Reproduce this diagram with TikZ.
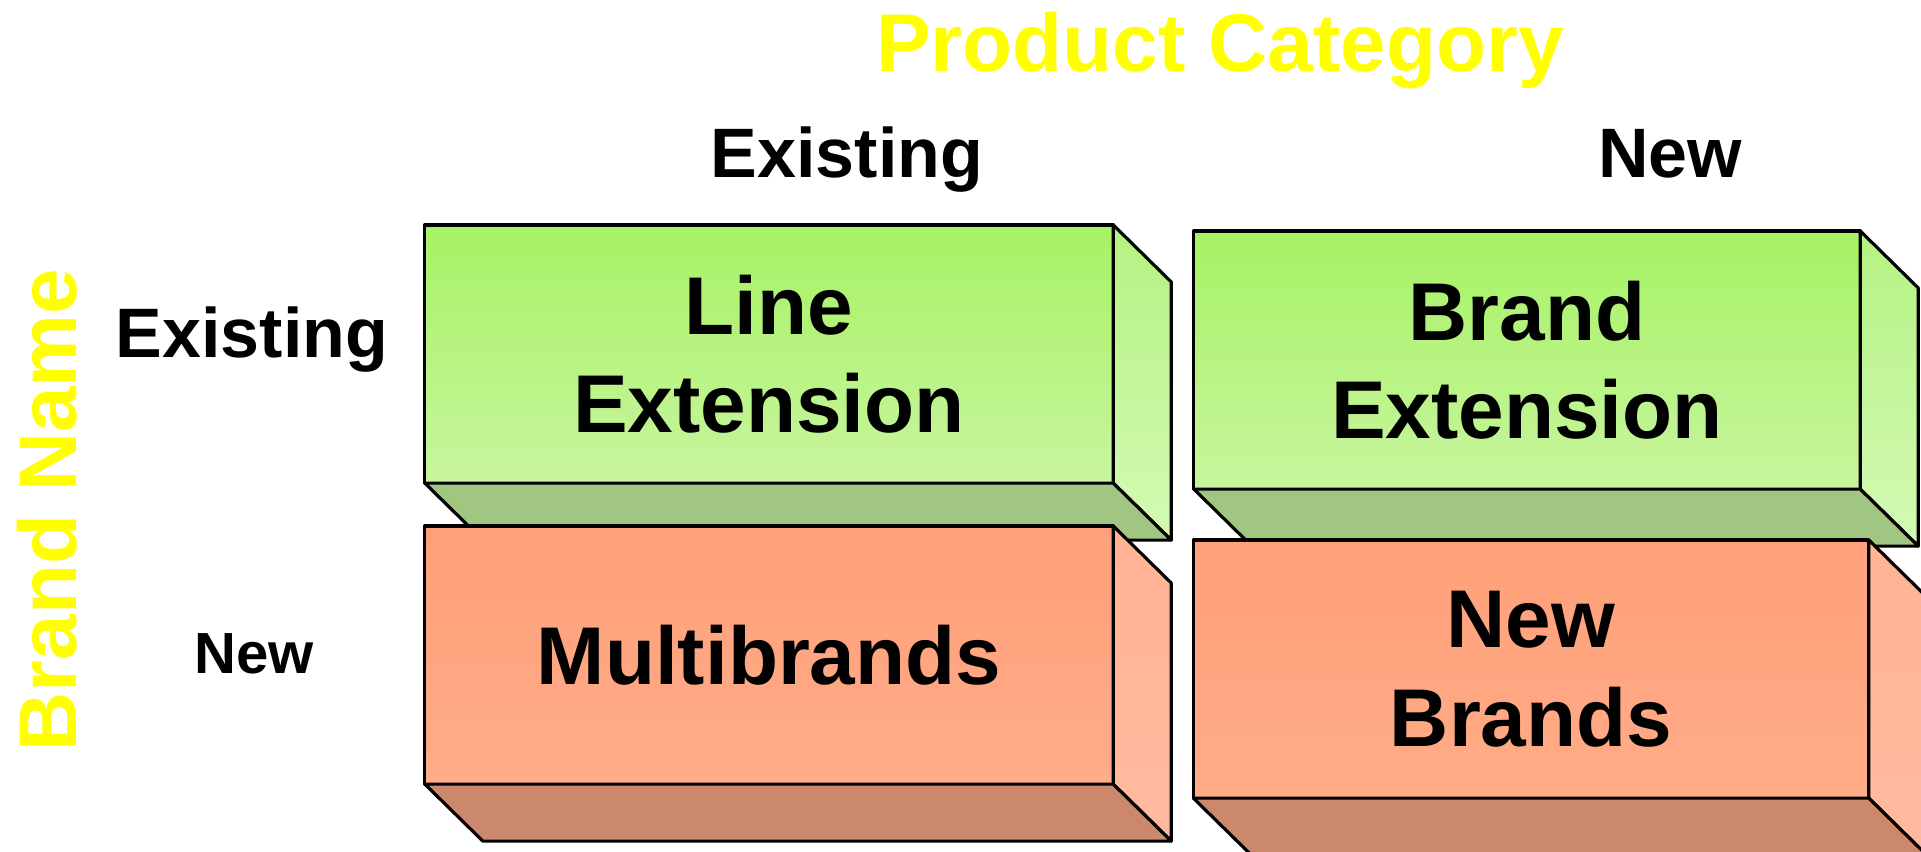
\documentclass[tikz,border=0pt]{standalone}
\usepackage{fontspec}
\setmainfont{Liberation Sans}

\definecolor{titleyellow}{HTML}{FFFF00}
\definecolor{greentop}{HTML}{A6F264}
\definecolor{greenbot}{HTML}{C8F59E}
\definecolor{greensidetop}{HTML}{B4F282}
\definecolor{greensidebot}{HTML}{D4FAB4}
\definecolor{greenfloor}{HTML}{A0C682}
\definecolor{salmontop}{HTML}{FFA07A}
\definecolor{salmonbot}{HTML}{FFAC88}
\definecolor{salmonsidetop}{HTML}{FFB494}
\definecolor{salmonsidebot}{HTML}{FFBA9E}
\definecolor{salmonfloor}{HTML}{CC886C}

\tikzset{
  face/.style={draw=black, line width=0.9pt, line join=round},
  frontbox/.style={face, inner sep=0pt, outer sep=0pt, align=center,
    minimum height=2.58cm, font=\fontsize{23.3}{28}\selectfont\bfseries},
  greenbox/.style={frontbox, top color=greentop, bottom color=greenbot},
  salmonbox/.style={frontbox, top color=salmontop, bottom color=salmonbot},
  greenside/.style={top color=greensidetop, bottom color=greensidebot},
  salmonside/.style={top color=salmonsidetop, bottom color=salmonsidebot},
  header/.style={anchor=base, font=\fontsize{19.9}{24}\selectfont\bfseries},
  axistitle/.style={anchor=base, text=titleyellow, font=\fontsize{23.3}{28}\selectfont\bfseries}
}

% side and floor of a box, from its front node
\newcommand{\depthfaces}[3]{%
  \path[face, #2] (#1.north east) -- ++(58,57) -- ([shift={(58,57)}]#1.south east) -- (#1.south east) -- cycle;
  \path[face, fill=#3] (#1.south west) -- (#1.south east) -- ([shift={(58,57)}]#1.south east) -- ([shift={(58,57)}]#1.south west) -- cycle;
}

\begin{document}
\begin{tikzpicture}[x=0.01cm, y=-0.01cm]
    \clip (0,0) rectangle (1921,851);

    \node (prodcat) [axistitle] at (1220,71) {Product Category};
    \node (brandname) [axistitle, rotate=90] at (77,510) {Brand Name};

    \node (colexist) [header] at (847,177) {Existing};
    \node (colnew) [header] at (1670,177) {New};
    \node (rowexist) [header] at (252,357) {Existing};
    \node (rownew) [header, font=\fontsize{16.5}{20}\selectfont\bfseries] at (254,673) {New};

    \node (lineext) [greenbox, minimum width=6.88cm] at (769,354) {Line\\Extension};
    \depthfaces{lineext}{greenside}{greenfloor}
    \node (multi) [salmonbox, minimum width=6.88cm] at (769,655) {Multibrands};
    \depthfaces{multi}{salmonside}{salmonfloor}

    \node (brandext) [greenbox, minimum width=6.66cm] at (1527,360) {Brand\\Extension};
    \depthfaces{brandext}{greenside}{greenfloor}
    \node (newbrands) [salmonbox, minimum width=6.75cm] at (1531,669) {New\\Brands};
    \depthfaces{newbrands}{salmonside}{salmonfloor}
\end{tikzpicture}
\end{document}
